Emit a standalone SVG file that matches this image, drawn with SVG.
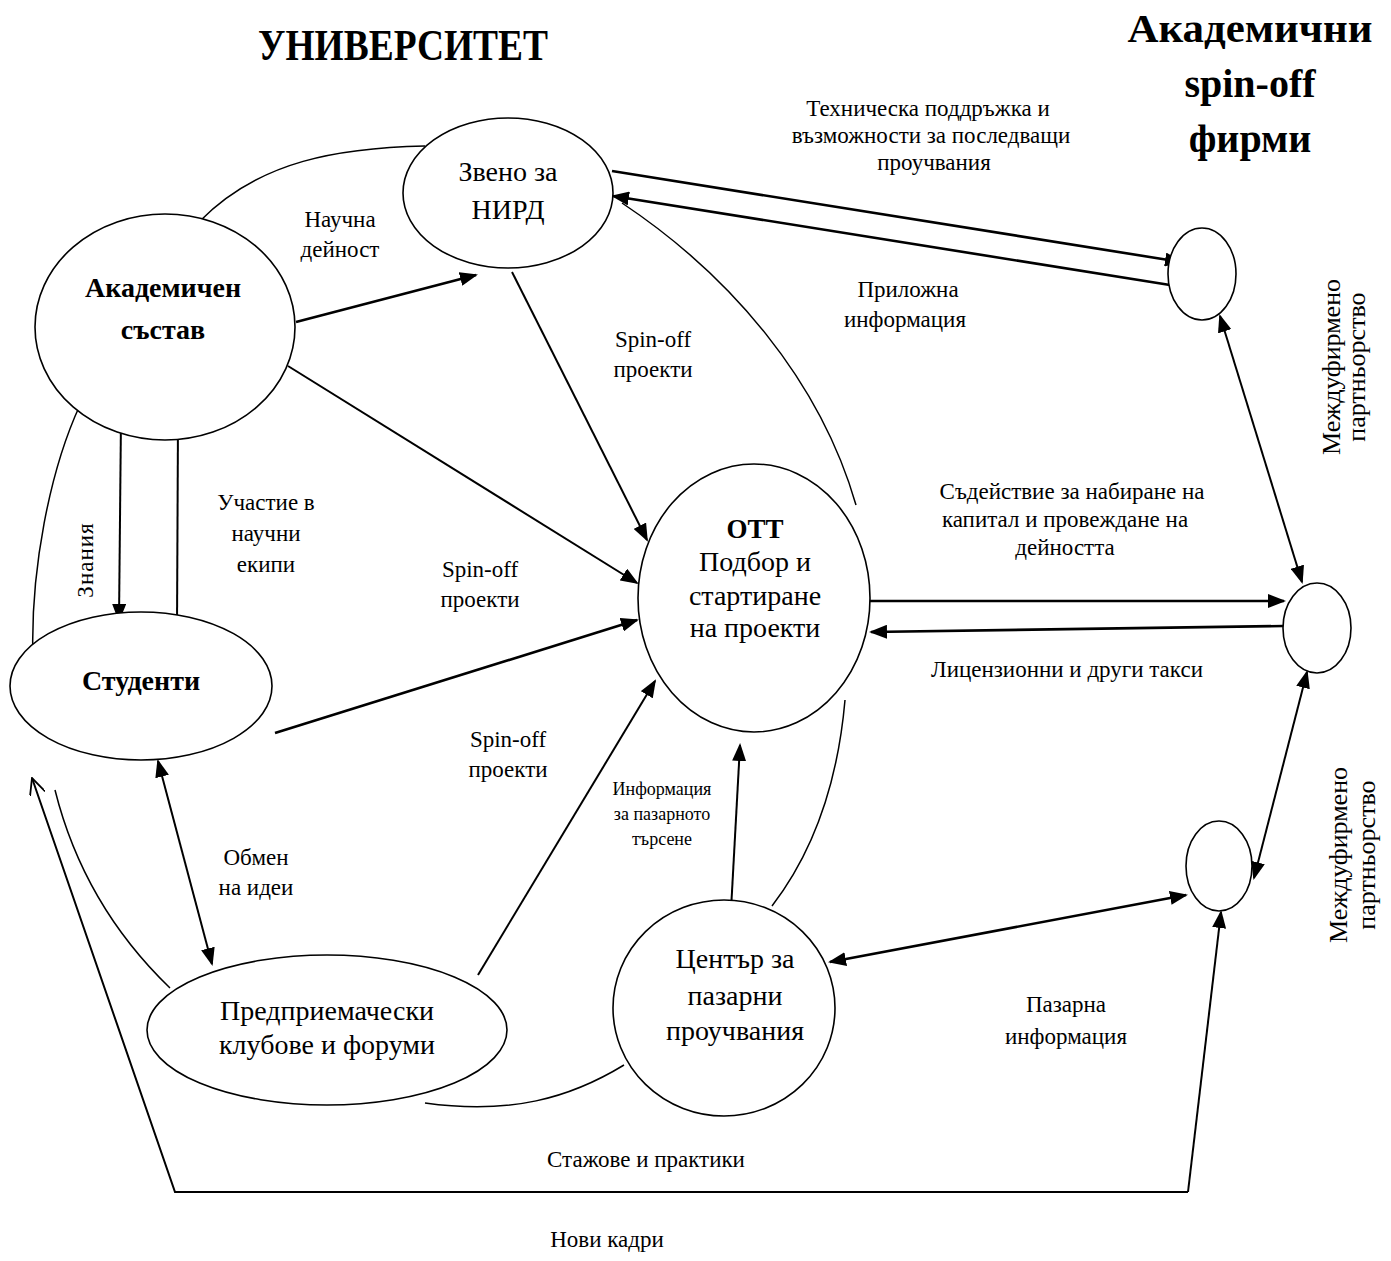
<svg xmlns="http://www.w3.org/2000/svg" width="1391" height="1261" viewBox="0 0 1391 1261">
<style>
text{font-family:"Liberation Serif","Times New Roman",serif;fill:#000}
.t{font-size:23px;text-anchor:middle}
.n{font-size:28px;text-anchor:middle}
.b{font-weight:bold}
.s{font-size:18px;text-anchor:middle}
.r{font-size:26px;text-anchor:middle}
.node{fill:#fff;stroke:#000;stroke-width:1.6}
.c{fill:none;stroke:#000;stroke-width:1.5}
.a{fill:none;stroke:#000;stroke-width:2.6}
.a2{fill:none;stroke:#000;stroke-width:2}
</style>
<defs>
<marker id="ah" markerUnits="userSpaceOnUse" markerWidth="18" markerHeight="14" refX="16" refY="7" orient="auto-start-reverse" viewBox="0 0 18 14">
<path d="M0,0 L18,7 L0,14 z" fill="#000"/>
</marker>
<marker id="open" markerUnits="userSpaceOnUse" markerWidth="18" markerHeight="16" refX="17" refY="8" orient="auto" viewBox="0 0 18 16">
<path d="M0,0 L17,8 L0,16" fill="none" stroke="#000" stroke-width="1.8"/>
</marker>
</defs>

<g id="titles">
<text x="403" y="60" text-anchor="middle" class="b" font-size="44" textLength="290" lengthAdjust="spacingAndGlyphs">УНИВЕРСИТЕТ</text>
<text x="1250" y="42" text-anchor="middle" class="b" font-size="40" textLength="245" lengthAdjust="spacingAndGlyphs">Академични</text>
<text x="1250" y="97" text-anchor="middle" class="b" font-size="40">spin-off</text>
<text x="1250" y="152" text-anchor="middle" class="b" font-size="40">фирми</text>
</g>

<g id="boundary">
<path class="c" d="M200,221 C260,160 340,148 425,146"/>
<path class="c" d="M80,405 C50,470 30,570 33,660"/>
<path class="c" d="M55,790 C75,870 115,935 170,988"/>
<path class="c" d="M425,1103 C510,1115 570,1098 624,1065"/>
<path class="c" d="M772,906 C815,850 838,780 845,700"/>
<path class="c" d="M622,203 C730,275 820,380 856,505"/>
</g>

<g id="connectors">
<line class="a" x1="296" y1="322" x2="476" y2="275" marker-end="url(#ah)"/>
<line class="a2" x1="512" y1="272" x2="647" y2="540" marker-end="url(#ah)"/>
<line class="a2" x1="288" y1="366" x2="637" y2="583" marker-end="url(#ah)"/>
<line class="a" x1="275" y1="733" x2="637" y2="620" marker-end="url(#ah)"/>
<line class="a2" x1="478" y1="975" x2="655" y2="681" marker-end="url(#ah)"/>
<line class="a2" x1="731" y1="910" x2="740" y2="745" marker-end="url(#ah)"/>
<line class="a2" x1="121" y1="418" x2="119" y2="620" marker-end="url(#ah)"/>
<line class="a2" x1="177" y1="628" x2="178" y2="420" marker-end="url(#ah)"/>
<line class="a2" x1="158" y1="761" x2="212" y2="964" marker-start="url(#ah)" marker-end="url(#ah)"/>
<line class="a" x1="612" y1="171" x2="1181" y2="262" marker-end="url(#ah)"/>
<line class="a" x1="1170" y1="285" x2="613" y2="196" marker-end="url(#ah)"/>
<line class="a" x1="870" y1="601" x2="1284" y2="601" marker-end="url(#ah)"/>
<line class="a" x1="1283" y1="626" x2="871" y2="632" marker-end="url(#ah)"/>
<line class="a2" x1="1220" y1="316" x2="1302" y2="582" marker-start="url(#ah)" marker-end="url(#ah)"/>
<line class="a2" x1="1307" y1="672" x2="1254" y2="878" marker-start="url(#ah)" marker-end="url(#ah)"/>
<line class="a" x1="830" y1="962" x2="1186" y2="895" marker-start="url(#ah)" marker-end="url(#ah)"/>
<polyline class="a2" points="1188,1192 175,1192 32,778" marker-end="url(#open)"/>
<line class="a2" x1="1188" y1="1192" x2="1221" y2="912" marker-end="url(#ah)"/>
</g>

<g id="labels">
<text class="t"><tspan x="928" y="116">Техническа поддръжка и</tspan><tspan x="931" y="143">възможности за последващи</tspan><tspan x="934" y="170">проучвания</tspan></text>
<text class="t"><tspan x="340" y="227">Научна</tspan><tspan x="340" y="257">дейност</tspan></text>
<text class="t"><tspan x="908" y="297">Приложна</tspan><tspan x="905" y="327">информация</tspan></text>
<text class="t"><tspan x="653" y="347">Spin-off</tspan><tspan x="653" y="377">проекти</tspan></text>
<text class="t"><tspan x="266" y="510">Участие в</tspan><tspan x="266" y="541">научни</tspan><tspan x="266" y="572">екипи</tspan></text>
<text class="t"><tspan x="1072" y="499">Съдействие за набиране на</tspan><tspan x="1065" y="527">капитал и провеждане на</tspan><tspan x="1065" y="555">дейността</tspan></text>
<text class="t"><tspan x="480" y="577">Spin-off</tspan><tspan x="480" y="607">проекти</tspan></text>
<text class="t" x="1067" y="677">Лицензионни и други такси</text>
<text class="t"><tspan x="508" y="747">Spin-off</tspan><tspan x="508" y="777">проекти</tspan></text>
<text class="s"><tspan x="662" y="795">Информация</tspan><tspan x="662" y="820">за пазарното</tspan><tspan x="662" y="845">търсене</tspan></text>
<text class="t"><tspan x="256" y="865">Обмен</tspan><tspan x="256" y="895">на идеи</tspan></text>
<text class="t"><tspan x="1066" y="1012">Пазарна</tspan><tspan x="1066" y="1044">информация</tspan></text>
<text class="t" x="646" y="1167">Стажове и практики</text>
<text class="t" x="607" y="1247">Нови кадри</text>
<text class="t" font-size="22" transform="translate(93,560) rotate(-90)" x="0" y="0" letter-spacing="1">Знания</text>
<text class="r" transform="translate(1340,367) rotate(-90)" x="0" y="0">Междуфирмено</text>
<text class="r" transform="translate(1365,367) rotate(-90)" x="0" y="0">партньорство</text>
<text class="r" transform="translate(1347,855) rotate(-90)" x="0" y="0">Междуфирмено</text>
<text class="r" transform="translate(1375,855) rotate(-90)" x="0" y="0">партньорство</text>
</g>

<g id="nird">
<ellipse class="node" cx="508" cy="193" rx="105" ry="75"/>
<text class="n"><tspan x="508" y="181">Звено за</tspan><tspan x="508" y="219">НИРД</tspan></text>
</g>
<g id="akad">
<ellipse class="node" cx="165" cy="327" rx="130" ry="113"/>
<text class="n b"><tspan x="163" y="297">Академичен</tspan><tspan x="163" y="339">състав</tspan></text>
</g>
<g id="studenti">
<ellipse class="node" cx="141" cy="686" rx="131" ry="74"/>
<text class="n b" x="141" y="690">Студенти</text>
</g>
<g id="ott">
<ellipse class="node" cx="754" cy="598" rx="116" ry="134"/>
<text class="n" font-size="26"><tspan x="755" y="538" class="b" font-size="27">ОТТ</tspan><tspan x="755" y="571">Подбор и</tspan><tspan x="755" y="605">стартиране</tspan><tspan x="755" y="637">на проекти</tspan></text>
</g>
<g id="klubove">
<ellipse class="node" cx="327" cy="1030" rx="180" ry="75"/>
<text class="n" font-size="32"><tspan x="327" y="1020">Предприемачески</tspan><tspan x="327" y="1054">клубове и форуми</tspan></text>
</g>
<g id="centar">
<ellipse class="node" cx="724" cy="1008" rx="111" ry="108"/>
<text class="n" font-size="30"><tspan x="735" y="968">Център за</tspan><tspan x="735" y="1005">пазарни</tspan><tspan x="735" y="1040">проучвания</tspan></text>
</g>
<g id="firm1"><ellipse class="node" cx="1202" cy="274" rx="34" ry="46"/></g>
<g id="firm2"><ellipse class="node" cx="1317" cy="628" rx="34" ry="45"/></g>
<g id="firm3"><ellipse class="node" cx="1219" cy="866" rx="33" ry="45"/></g>
</svg>
